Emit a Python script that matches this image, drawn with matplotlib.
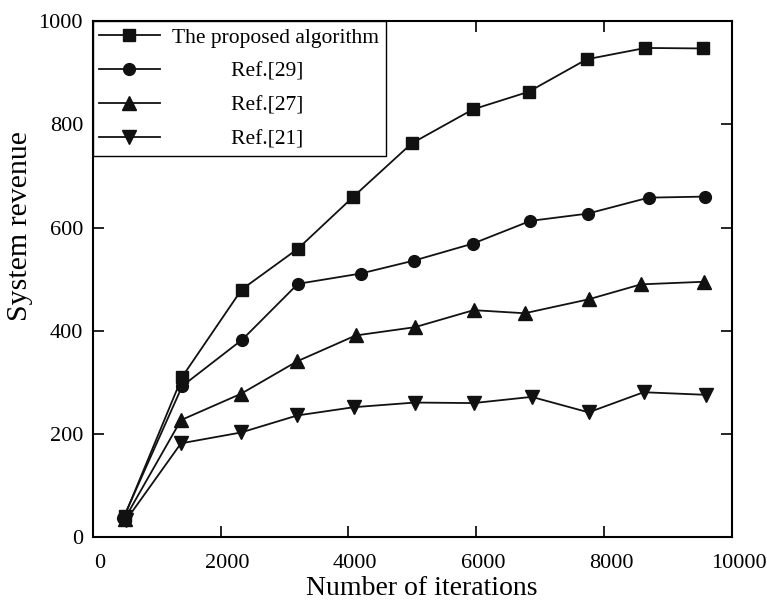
import matplotlib.pyplot as plt
from matplotlib.transforms import ScaledTranslation

plt.rcParams['font.family'] = ['Liberation Serif', 'DejaVu Serif']

# Data
labels = ['The proposed algorithm', 'Ref.[29]', 'Ref.[27]', 'Ref.[21]']
markers = ['s', 'o', '^', 'v']

x_prop = [500, 1400, 2330, 3210, 4080, 4990, 5950, 6820, 7730, 8650, 9550]
y_prop = [42, 311, 480, 559, 660, 763, 829, 863, 926, 948, 947]

x_r29 = [480, 1400, 2340, 3210, 4195, 5025, 5950, 6850, 7745, 8700, 9580]
y_r29 = [38, 293, 383, 491, 511, 536, 569, 613, 627, 658, 660]

x_r27 = [500, 1380, 2320, 3200, 4115, 5040, 5960, 6760, 7760, 8580, 9560]
y_r27 = [36, 227, 278, 341, 391, 407, 440, 434, 461, 490, 495]

x_r21 = [520, 1380, 2320, 3200, 4085, 5040, 5960, 6870, 7760, 8620, 9590]
y_r21 = [33, 182, 203, 236, 252, 261, 260, 272, 242, 281, 276]

series = [(x_prop, y_prop), (x_r29, y_r29), (x_r27, y_r27), (x_r21, y_r21)]

fig = plt.figure(figsize=(7.67, 6.03), dpi=100)
ax = fig.add_axes([0.121, 0.109, 0.833, 0.856])

# pad the Ref labels so they sit centred under the first one, like the original
shown = [labels[0]] + ['           ' + l for l in labels[1:]]

for (xs, ys), m, lab in zip(series, markers, shown):
    ax.plot(xs, ys, color='#111111', linewidth=1.3, marker=m,
            markersize=9.5 if m in '^v' else 8.5, label=lab)

ax.set_xlim(0, 10000)
ax.set_ylim(0, 1000)
ax.set_xticks(range(0, 10001, 2000))
ax.set_yticks(range(0, 1001, 200))
ax.tick_params(direction='in', length=8, width=1.2, top=True, right=True,
               labelsize=16)
ax.tick_params(axis='x', pad=12)
ax.tick_params(axis='y', pad=7)
for s in ax.spines.values():
    s.set_linewidth(1.5)

# x tick labels sit a little right of their ticks in the original
shift = ScaledTranslation(0.07, 0, fig.dpi_scale_trans)
for t in ax.get_xticklabels():
    t.set_transform(t.get_transform() + shift)

ax.set_xlabel('Number of iterations', fontsize=20)
ax.set_ylabel('System revenue', fontsize=21.5)
ax.xaxis.set_label_coords(0.515, -0.075)
ax.yaxis.set_label_coords(-0.093, 0.603)

leg = ax.legend(loc='upper left', fontsize=15.5, handlelength=2.8,
                borderaxespad=0, borderpad=0.3, labelspacing=0.65,
                handletextpad=0.6, fancybox=False, framealpha=1)
leg.get_frame().set_edgecolor('black')
leg.get_frame().set_linewidth(1.0)

fig.savefig('out.png', dpi=100)
